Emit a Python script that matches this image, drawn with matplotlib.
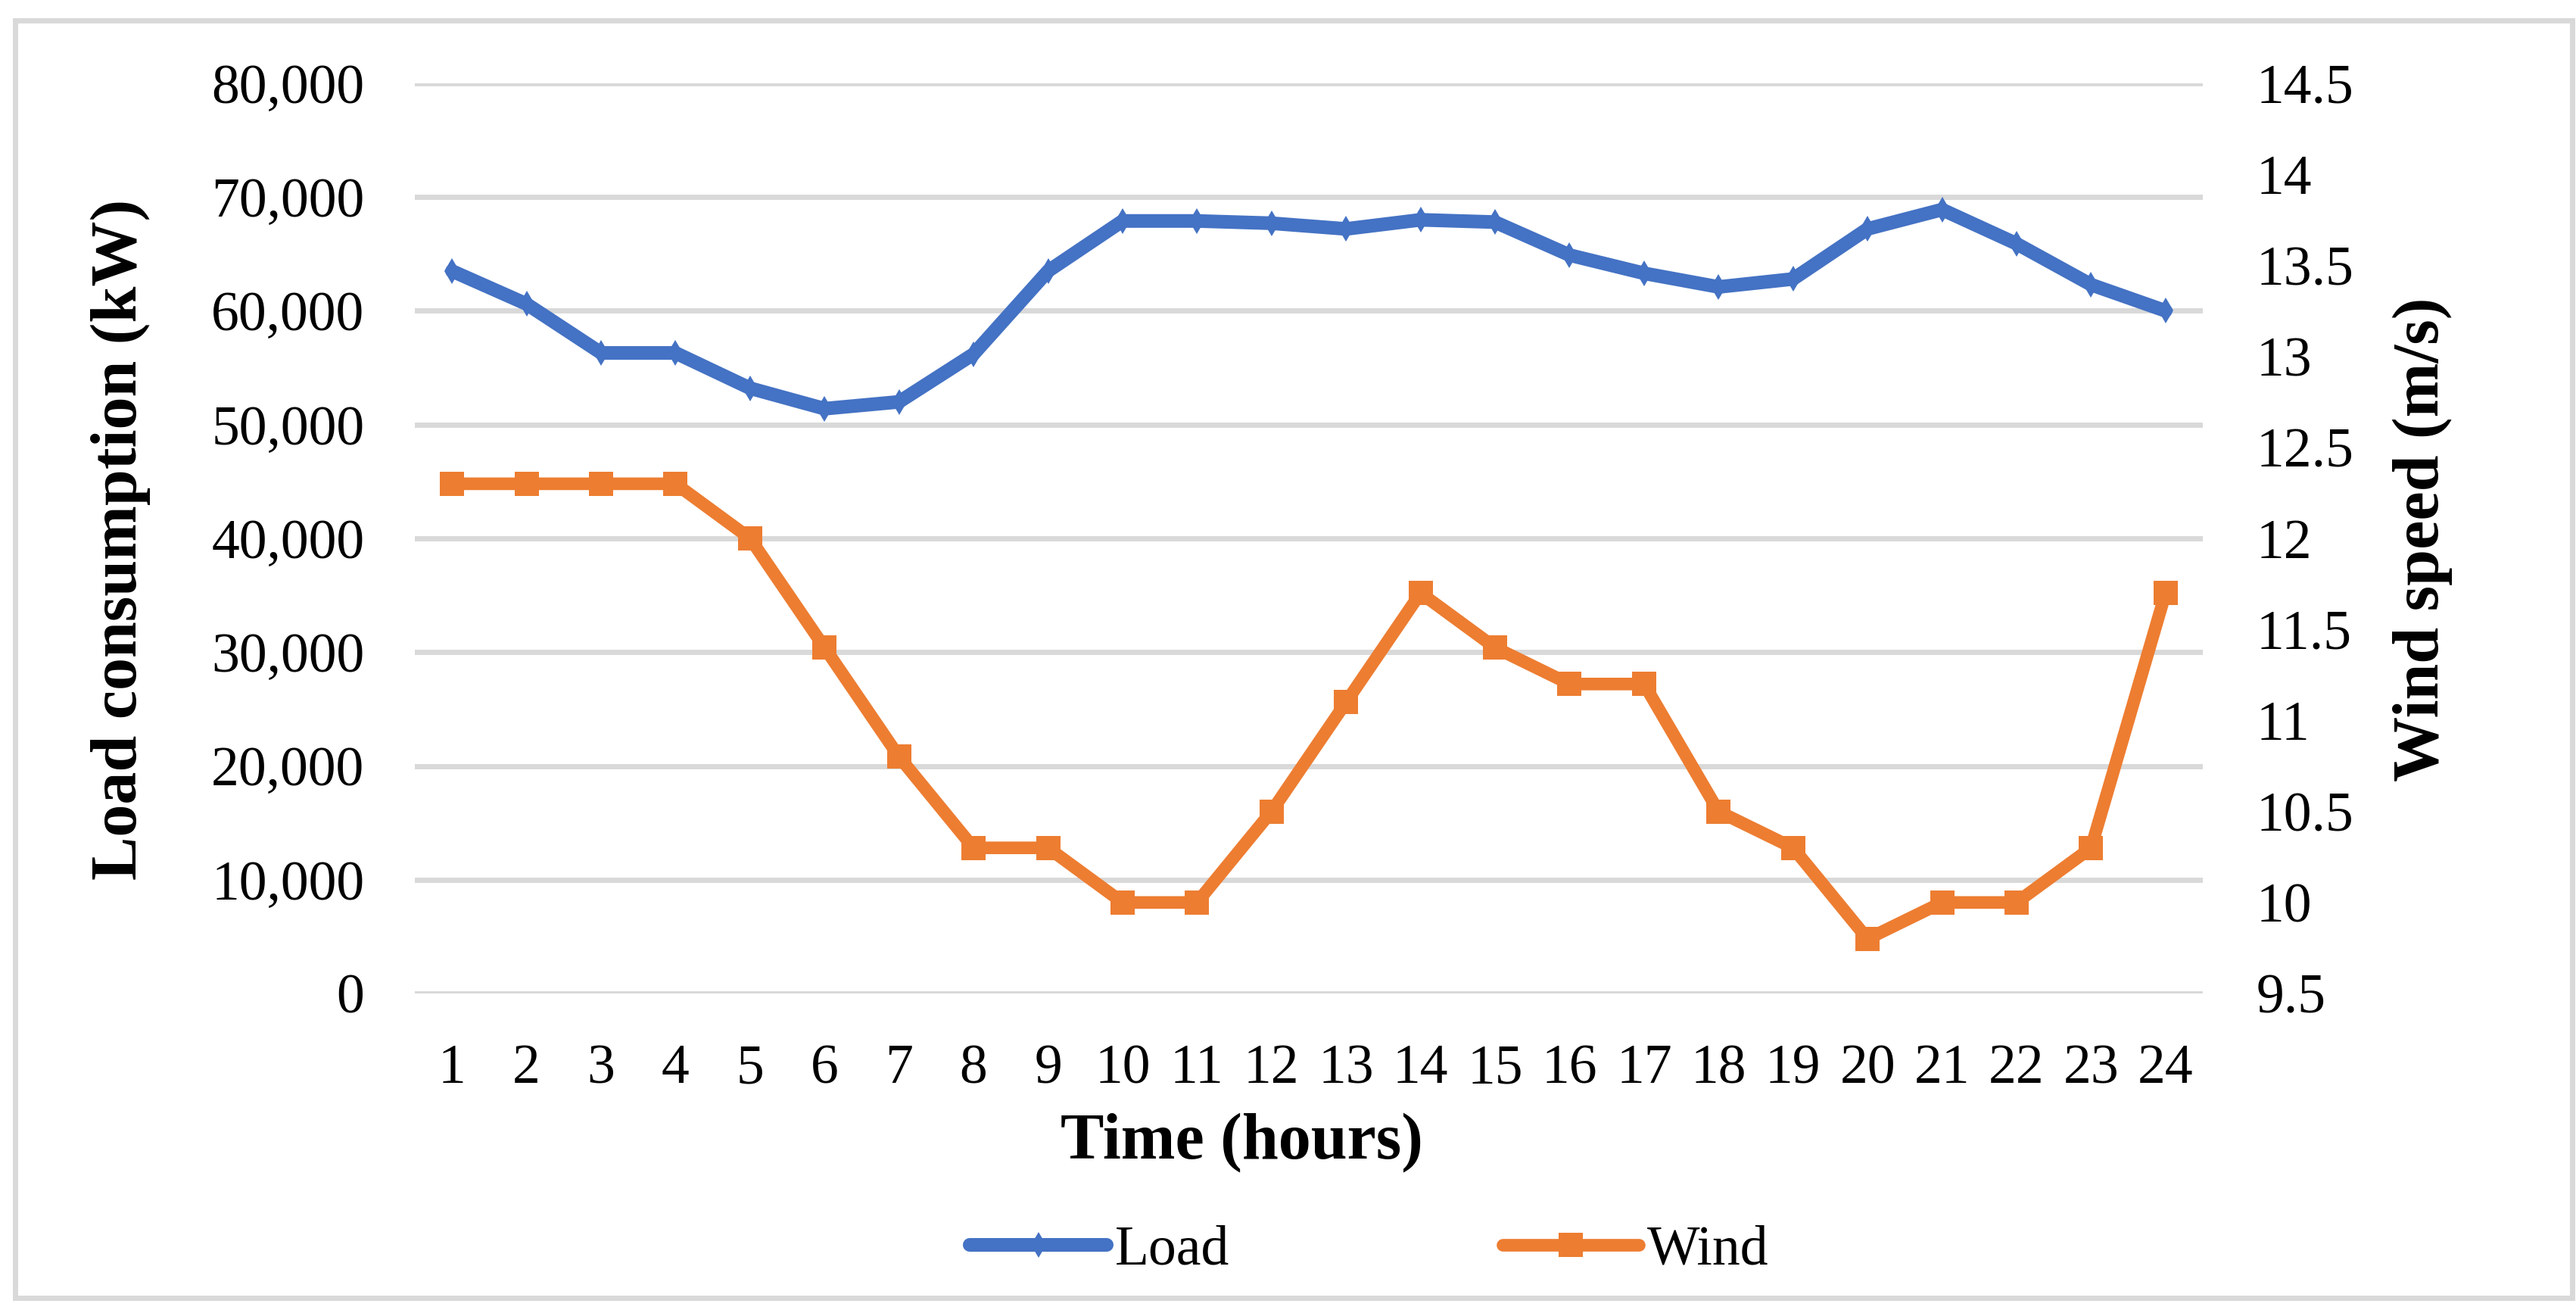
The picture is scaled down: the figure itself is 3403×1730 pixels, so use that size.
import matplotlib
matplotlib.use("Agg")
import matplotlib.pyplot as plt
from matplotlib.patches import Rectangle
from matplotlib.ticker import FuncFormatter, MultipleLocator

# data
hours = list(range(1, 25))
load_kw = [63500, 60600, 56300, 56300, 53200, 51400, 52000, 56200, 63500, 67900, 67900, 67700,
           67200, 68000, 67800, 64900, 63300, 62100, 62800, 67200, 68900, 65900, 62300, 60000]
wind_ms = [12.3, 12.3, 12.3, 12.3, 12.0, 11.4, 10.8, 10.3, 10.3, 10.0, 10.0, 10.5,
           11.1, 11.7, 11.4, 11.2, 11.2, 10.5, 10.3, 9.8, 10.0, 10.0, 10.3, 11.7]

W, H = 3403, 1730
blue = "#4472C4"
orange = "#ED7D31"
grid_c = "#D9D9D9"

plt.rcParams['font.family'] = ['Liberation Serif', 'DejaVu Serif']

fig = plt.figure(figsize=(W / 200, H / 200), dpi=200)
ax = fig.add_axes([548 / W, 1 - 1312 / H, (2910 - 548) / W, (1312 - 110) / H])
ax2 = ax.twinx()

# outer chart border
fig.patches.append(Rectangle((20 / W, 1 - 1714 / H), (3398 - 20) / W, (1714 - 27) / H,
                             transform=fig.transFigure, fill=False, edgecolor=grid_c, lw=2.5))

l1, = ax.plot(hours, load_kw, color=blue, lw=6.5, marker='d', ms=8.8, mew=0,
              solid_capstyle='round', solid_joinstyle='round', label='Load', zorder=3)
l2, = ax2.plot(hours, wind_ms, color=orange, lw=6.0, marker='s', ms=11.2, mew=0,
               solid_capstyle='round', solid_joinstyle='round', label='Wind', zorder=3)

ax.set_xlim(0.5, 24.5)
ax.set_ylim(0, 80000)
ax2.set_ylim(9.5, 14.5)
ax.yaxis.set_major_locator(MultipleLocator(10000))
ax2.yaxis.set_major_locator(MultipleLocator(0.5))
ax.yaxis.set_major_formatter(FuncFormatter(lambda v, p: f"{int(v):,}"))
ax2.yaxis.set_major_formatter(FuncFormatter(lambda v, p: f"{v:g}"))
ax.set_xticks(hours)

ax.grid(axis='y', color=grid_c, lw=2.5)
ax.set_axisbelow(True)
for a in (ax, ax2):
    for s in a.spines.values():
        s.set_visible(False)
ax.tick_params(axis='both', length=0, labelsize=26.5)
ax.tick_params(axis='y', pad=24)
ax.tick_params(axis='x', pad=24)
ax2.tick_params(axis='y', length=0, labelsize=26.5, pad=25.5)

fig.text(159 / W, 1 - 712 / H, "Load consumption (kW)", rotation=90, ha='center', va='center',
         fontsize=31, fontweight='bold')
fig.text(3200 / W, 1 - 712 / H, "Wind speed (m/s)", rotation=90, ha='center', va='center',
         fontsize=31, fontweight='bold')
fig.text(1640 / W, 1 - 1509 / H, "Time (hours)", ha='center', va='center',
         fontsize=31, fontweight='bold')

fig.legend(handles=[l1, l2], loc='center', bbox_to_anchor=(1809 / W, 1 - 1652 / H), ncol=2,
           frameon=False, fontsize=26.5, handlelength=2.45, handletextpad=0.15, columnspacing=4.9)

fig.savefig("out.png", dpi=200)
